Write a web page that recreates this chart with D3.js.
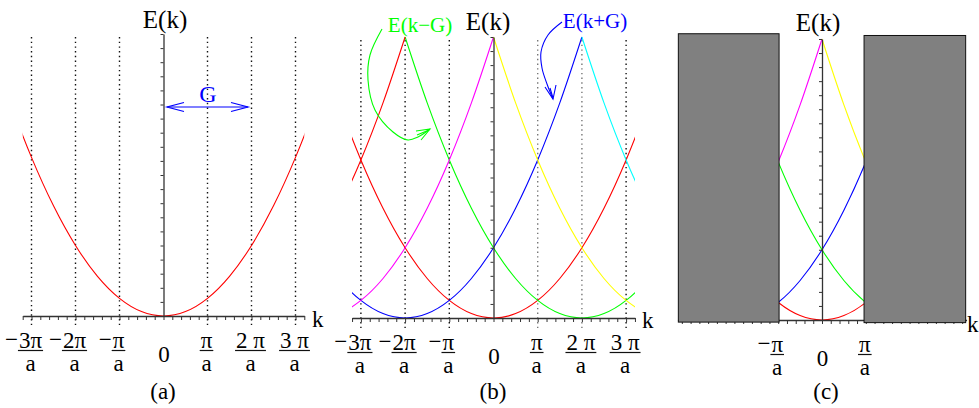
<!DOCTYPE html>
<html><head><meta charset="utf-8">
<script src="https://cdn.jsdelivr.net/npm/d3@7"></script>
<style>
body{margin:0;background:#fff}
svg{display:block}
text{font-family:"Liberation Serif","Times New Roman",serif}
</style>
</head><body>
<svg id="c" width="979" height="408"></svg>
<script>
// free-electron dispersion E(u) = u^2, u in units of pi/a
const baseK = [-4,-3.5,-3,-2.5,-2,-1.5,-1,-0.5,0,0.5,1,1.5,2,2.5,3,3.5,4];
const baseE = [16,12.25,9,6.25,4,2.25,1,0.25,0,0.25,1,2.25,4,6.25,9,12.25,16];
// bands E(k + nG), G = 2 pi/a
const bandShift = [0, 1, -1, 2, -2, 3, -3];
const bandColor = ["#ff0000","#0000ff","#00ff00","#ff00ff","#ffff00","#ff0000","#00ffff"];
const G = 2;
// k tick labels
const tickK   = [-3, -2, -1, 1, 2, 3];
const tickNum = ["3π", "2π", "π", "π", "2 π", "3 π"];
const tickNeg = [true, true, true, false, false, false];
const tickDen = "a";
const panelTags = ["(a)", "(b)", "(c)"];
// minor ticks
const kMinor = d3.range(-16, 17).map(i => i * 0.2);
const eMinor = d3.range(0, 21).map(i => i * 0.8);
// shaded zones of panel (c)
const boxK = [[-3.28, -0.98], [0.96, 3.28]];
const boxE = [[-0.12, 16.3], [-0.15, 16.2]];

const svg = d3.select("#c");
const defs = svg.append("defs");

const panels = [
  {name:"a", cx:163.5, unit:44,   axisY:316, topY:34, kDom:[-3.2,3.2], bands:[0],
   clipK:[-3.2,3.2], dotted:[-3,-2,-1,1,2,3], grayDots:[], dotTop:37, dotBot:326,
   labels:[-3,-2,-1,1,2,3], ekX:165, ekY:28, tagX:163, kLab:[312,327]},
  {name:"b", cx:493.5, unit:44.2, axisY:318, topY:37, kDom:[-3.2,3.2], bands:[0,1,2,3,4,5,6],
   clipK:[-3.2,3.2], dotted:[-3,-2,-1,1,2,3], grayDots:[1,2], dotTop:40, dotBot:329,
   labels:[-3,-2,-1,1,2,3], ekX:488, ekY:30, tagX:493, kLab:[642,328]},
  {name:"c", cx:822,   unit:43.8, axisY:320, topY:39, kDom:[-3.3,3.3], bands:[0,1,2,3,4,5,6],
   clipK:[-0.98,0.96], dotted:[], grayDots:[], dotTop:40, dotBot:329,
   labels:[-1,1], ekX:818, ekY:31, tagX:826, kLab:[967,332], boxes:true}
];

panels.forEach((p, pi) => {
  const x = d3.scaleLinear().domain(p.kDom)
    .range([p.cx + p.kDom[0]*p.unit, p.cx + p.kDom[1]*p.unit]);
  const y = d3.scaleLinear().domain([0,16]).range([p.axisY, p.topY]);
  const g = svg.append("g");

  // dotted zone boundaries
  g.selectAll("line.dot").data(p.dotted).join("line").attr("class","dot")
    .attr("x1", d => x(d)).attr("x2", d => x(d))
    .attr("y1", p.dotTop).attr("y2", p.dotBot)
    .attr("stroke", d => p.grayDots.includes(d) ? "#777" : "#111")
    .attr("stroke-width", 1.4).attr("stroke-dasharray", "1.4,3.3");

  // bands
  const id = "clip" + p.name;
  defs.append("clipPath").attr("id", id).append("rect")
    .attr("x", x(p.clipK[0])).attr("width", x(p.clipK[1]) - x(p.clipK[0]))
    .attr("y", 0).attr("height", p.axisY + 1);
  const line = d3.line().x(d => x(d[0])).y(d => y(d[1])).curve(d3.curveCardinal.tension(0));
  const cg = g.append("g").attr("clip-path", `url(#${id})`);
  p.bands.forEach(i => {
    const n = bandShift[i];
    const pts = baseK.map((u, j) => [u - n*G, baseE[j]]);
    cg.append("path").attr("d", line(pts)).attr("fill","none")
      .attr("stroke", bandColor[i]).attr("stroke-width", 1.1);
  });

  // axes
  const xa = g.append("g").attr("transform", `translate(0,${p.axisY})`)
    .call(d3.axisBottom(x).tickValues(kMinor).tickSize(4).tickSizeOuter(0).tickFormat(""));
  const ya = g.append("g").attr("transform", `translate(${x(0)},0)`)
    .call(d3.axisLeft(y).tickValues(eMinor).tickSize(3).tickSizeOuter(0).tickFormat(""));
  [xa, ya].forEach(a => {
    a.selectAll("path").attr("stroke", "#333").attr("stroke-width", 1.3);
    a.selectAll("line").attr("stroke", "#333").attr("stroke-width", 1);
  });

  // shaded boxes (panel c)
  if (p.boxes) {
    g.selectAll("rect.box").data(boxK).join("rect").attr("class","box")
      .attr("x", d => x(d[0])).attr("width", d => x(d[1]) - x(d[0]))
      .attr("y", (d,i) => y(boxE[i][1])).attr("height", (d,i) => y(boxE[i][0]) - y(boxE[i][1]))
      .attr("fill", "#808080").attr("stroke", "#111").attr("stroke-width", 1);
  }

  // tick labels
  tickK.forEach((k, i) => {
    if (!p.labels.includes(k)) return;
    const cx = x(k) - 1;
    const num = g.append("text").attr("x", cx).attr("y", p.axisY + 32)
      .attr("text-anchor","middle").attr("font-size", 23).text(tickNum[i]);
    const w = num.node().getComputedTextLength();
    g.append("line").attr("x1", cx - w/2 - 1).attr("x2", cx + w/2 + 1)
      .attr("y1", p.axisY + 34.5).attr("y2", p.axisY + 34.5)
      .attr("stroke", "#111").attr("stroke-width", 1.2);
    g.append("text").attr("x", cx).attr("y", p.axisY + 55)
      .attr("text-anchor","middle").attr("font-size", 23).text(tickDen);
    if (tickNeg[i]) {
      g.append("text").attr("x", cx - w/2 - 1).attr("y", p.axisY + 31)
        .attr("text-anchor","end").attr("font-size", 23).text("−");
    }
  });
  g.append("text").attr("x", x(0) + 0.5).attr("y", p.axisY + 46)
    .attr("text-anchor","middle").attr("font-size", 23).text("0");

  // axis titles
  g.append("text").attr("x", p.ekX).attr("y", p.ekY).attr("text-anchor","middle")
    .attr("font-size", 25).text("E(k)");
  g.append("text").attr("x", p.kLab[0]).attr("y", p.kLab[1]).attr("font-size", 23).text("k");
  g.append("text").attr("x", p.tagX).attr("y", 399).attr("text-anchor","middle")
    .attr("font-size", 23).text(panelTags[pi]);
});

// panel (a): G arrow
const ga = svg.append("g").attr("stroke", "#0000ff").attr("stroke-width", 1.2).attr("fill", "none");
ga.append("line").attr("x1", 167).attr("x2", 248).attr("y1", 107).attr("y2", 107);
ga.append("path").attr("d", "M184,102.5 L167,107 L184,111.5");
ga.append("path").attr("d", "M231,102.5 L248,107 L231,111.5");
svg.append("text").attr("x", 208).attr("y", 102).attr("text-anchor","middle")
  .attr("font-size", 24).attr("fill", "#0000ff").text("G");

// panel (b): annotations
const curve = d3.line().curve(d3.curveCatmullRom);
svg.append("text").attr("x", 420).attr("y", 32).attr("text-anchor","middle")
  .attr("font-size", 21).attr("fill", "#00ff00").text("E(k−G)");
svg.append("text").attr("x", 595).attr("y", 28).attr("text-anchor","middle")
  .attr("font-size", 21).attr("fill", "#0000ff").text("E(k+G)");
const gg = svg.append("g").attr("stroke", "#00ff00").attr("stroke-width", 1.1).attr("fill", "none");
gg.append("path").attr("d", curve([[382,29],[370,55],[368,80],[375,110],[393,132],[408,140],[418,137],[430,129]]));
gg.append("path").attr("d", "M416,131 L430,129 L421,140 M417,135 L429,130");
const gb = svg.append("g").attr("stroke", "#0000ff").attr("stroke-width", 1.1).attr("fill", "none");
gb.append("path").attr("d", curve([[562,22],[548,35],[541,52],[542,68],[547,84],[553,99]]));
gb.append("path").attr("d", "M545,87 L553,99 L556,85 M550,88 L553,98");
</script>
</body></html>
